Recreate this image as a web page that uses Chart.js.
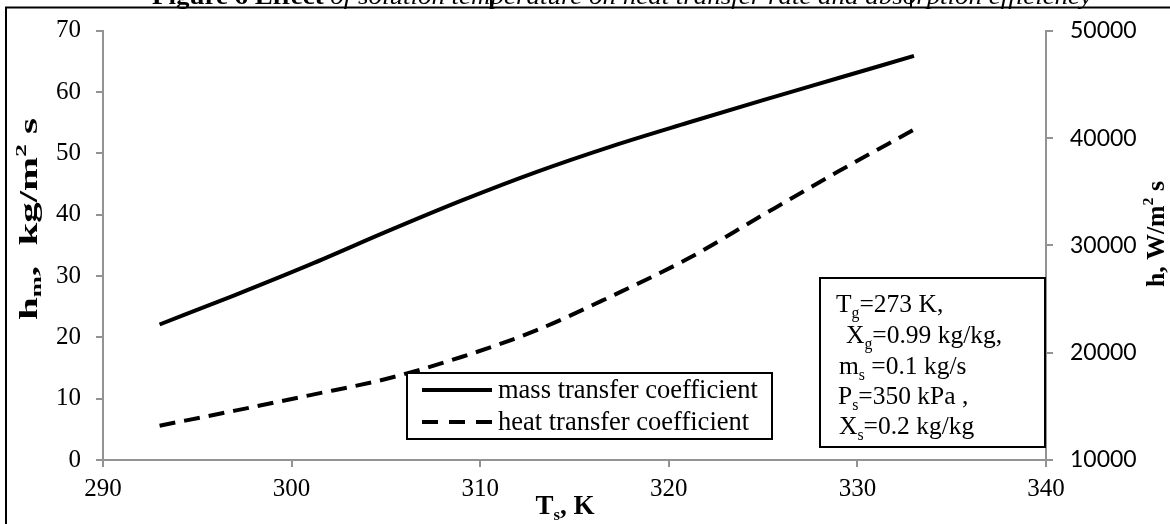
<!DOCTYPE html>
<html>
<head>
<meta charset="utf-8">
<script src="https://cdn.jsdelivr.net/npm/chart.js@4.4.1/dist/chart.umd.min.js"></script>
<style>
  html, body { margin: 0; padding: 0; background: #fff; }
  #wrap { width: 1170px; height: 524px; }
</style>
</head>
<body>
<div id="wrap"><canvas id="chart" width="1170" height="524"></canvas></div>
<script>
// solution temperature, K
const temps = [293, 297, 301, 305, 309, 313, 317, 321, 325, 329, 333];
// mass transfer coefficient, kg/m2 s (left axis)
const massCoeff = [22.1, 26.9, 31.9, 37.2, 42.3, 47.0, 51.2, 55.0, 58.7, 62.3, 65.9];
// heat transfer coefficient, W/m2 s (right axis)
const heatCoeff = [13200, 14600, 16050, 17550, 19600, 22100, 25300, 28750, 32850, 36900, 40800];

const xTicks = [290, 300, 310, 320, 330, 340];
const leftTicks = [0, 10, 20, 30, 40, 50, 60, 70];
const rightTicks = [10000, 20000, 30000, 40000, 50000];
const seriesNames = ["mass transfer coefficient", "heat transfer coefficient"];

const SERIF = '"Liberation Serif", "Times New Roman", serif';
const SANS = 'Lato, "Open Sans", sans-serif';
const AXIS = "#939393";

// rich text: [text, kind] where kind is "", "sub" or "sup"
function richWidth(ctx, parts, size, bold) {
  let w = 0;
  parts.forEach(([str, kind]) => {
    const s = kind ? size * 0.62 : size;
    ctx.font = (bold ? "bold " : "") + s + "px " + SERIF;
    w += ctx.measureText(str).width;
  });
  return w;
}

function richText(ctx, parts, x, y, size, bold) {
  let cx = x;
  parts.forEach(([str, kind]) => {
    const s = kind ? size * 0.62 : size;
    ctx.font = (bold ? "bold " : "") + s + "px " + SERIF;
    const dy = kind === "sub" ? size * 0.22 : kind === "sup" ? -size * 0.38 : 0;
    ctx.fillText(str, cx, y + dy);
    cx += ctx.measureText(str).width;
  });
}

// vertical axis title, stretched to the length it has in the figure
function rotatedTitle(ctx, parts, cx, cy, size, len) {
  const w = richWidth(ctx, parts, size, true);
  ctx.save();
  ctx.translate(cx, cy);
  ctx.rotate(-Math.PI / 2);
  ctx.scale(len / w, 1);
  ctx.textBaseline = "middle";
  richText(ctx, parts, -w / 2, 0, size, true);
  ctx.restore();
}

const decor = {
  id: "decor",
  afterDraw(chart) {
    const ctx = chart.ctx;
    ctx.save();
    ctx.fillStyle = "#000";
    ctx.strokeStyle = "#000";
    ctx.textBaseline = "alphabetic";

    // figure caption, cut off by the top of the image
    const capA = "Figure 6 Effect ";
    const capB = "of solution temperature on heat transfer rate and absorption efficiency";
    ctx.font = "bold 24px " + SERIF;
    const wa = ctx.measureText(capA).width;
    ctx.font = "italic 24px " + SERIF;
    const wb = ctx.measureText(capB).width;
    ctx.save();
    ctx.translate(152, 4);
    ctx.scale(940 / (wa + wb), 1);
    ctx.font = "bold 24px " + SERIF;
    ctx.fillText(capA, 0, 0);
    ctx.font = "italic 24px " + SERIF;
    ctx.fillText(capB, wa, 0);
    ctx.restore();

    // outer frame
    ctx.lineWidth = 2;
    ctx.beginPath();
    ctx.moveTo(6, 524);
    ctx.lineTo(6, 7.5);
    ctx.lineTo(1170, 7.5);
    ctx.moveTo(491, 0);
    ctx.lineTo(491, 7.5);
    ctx.moveTo(911, 0);
    ctx.lineTo(911, 7.5);
    ctx.stroke();

    // axis titles
    rotatedTitle(ctx, [["h", ""], ["m", "sub"], [",  kg/m", ""], ["2", "sup"], [" s", ""]], 31, 219, 25, 202);
    rotatedTitle(ctx, [["h, W/m", ""], ["2", "sup"], [" s", ""]], 1158, 234, 25, 106);
    const xt = [["T", ""], ["s", "sub"], [", K", ""]];
    richText(ctx, xt, 565 - richWidth(ctx, xt, 27, true) / 2, 514, 27, true);

    // legend box
    ctx.fillStyle = "#fff";
    ctx.fillRect(407, 373, 365, 66);
    ctx.lineWidth = 2;
    ctx.strokeRect(407, 373, 365, 66);
    ctx.fillStyle = "#000";
    ctx.lineWidth = 4;
    ctx.beginPath();
    ctx.moveTo(422, 390);
    ctx.lineTo(492, 390);
    ctx.stroke();
    ctx.setLineDash([16, 11]);
    ctx.beginPath();
    ctx.moveTo(422, 422);
    ctx.lineTo(492, 422);
    ctx.stroke();
    ctx.setLineDash([]);
    ctx.font = "26.5px " + SERIF;
    ctx.fillText(seriesNames[0], 498, 398);
    ctx.fillText(seriesNames[1], 498, 430);

    // conditions box
    ctx.lineWidth = 2;
    ctx.fillStyle = "#fff";
    ctx.fillRect(820, 278, 225, 169);
    ctx.strokeRect(820, 278, 225, 169);
    ctx.fillStyle = "#000";
    const notes = [
      [836, 312, [["T", ""], ["g", "sub"], ["=273 K,", ""]]],
      [846, 343, [["X", ""], ["g", "sub"], ["=0.99 kg/kg,", ""]]],
      [839, 374, [["m", ""], ["s", "sub"], [" =0.1 kg/s", ""]]],
      [838, 404, [["P", ""], ["s", "sub"], ["=350 kPa ,", ""]]],
      [839, 434, [["X", ""], ["s", "sub"], ["=0.2 kg/kg", ""]]],
    ];
    notes.forEach(([x, y, parts]) => richText(ctx, parts, x, y, 25.5, false));
    ctx.restore();
  },
};

const ctx = document.getElementById("chart").getContext("2d");

new Chart(ctx, {
  type: "line",
  data: {
    datasets: [
      {
        label: seriesNames[0],
        data: temps.map((t, i) => ({ x: t, y: massCoeff[i] })),
        yAxisID: "y",
        borderColor: "#000",
        borderWidth: 4,
        pointRadius: 0,
        cubicInterpolationMode: "monotone",
      },
      {
        label: seriesNames[1],
        data: temps.map((t, i) => ({ x: t, y: heatCoeff[i] })),
        yAxisID: "y1",
        borderColor: "#000",
        borderWidth: 4,
        borderDash: [16, 9],
        pointRadius: 0,
        cubicInterpolationMode: "monotone",
      },
    ],
  },
  options: {
    responsive: false,
    animation: false,
    layout: { padding: { top: 24, left: 0, right: 0, bottom: 0 } },
    plugins: { legend: { display: false }, tooltip: { enabled: false } },
    scales: {
      x: {
        type: "linear",
        min: xTicks[0],
        max: xTicks[xTicks.length - 1],
        ticks: {
          stepSize: xTicks[1] - xTicks[0],
          color: "#000",
          padding: 7,
          font: { family: SERIF, size: 25 },
        },
        grid: { drawOnChartArea: false, tickLength: 7, color: AXIS, lineWidth: 2 },
        border: { color: AXIS, width: 2 },
        afterFit: (s) => { s.height = 64; },
      },
      y: {
        position: "left",
        min: leftTicks[0],
        max: leftTicks[leftTicks.length - 1],
        ticks: {
          stepSize: leftTicks[1] - leftTicks[0],
          color: "#000",
          padding: 15,
          font: { family: SERIF, size: 25 },
        },
        grid: { drawOnChartArea: false, tickLength: 7, color: AXIS, lineWidth: 2 },
        border: { color: AXIS, width: 2 },
        afterFit: (s) => { s.width = 103; },
      },
      y1: {
        position: "right",
        min: rightTicks[0],
        max: rightTicks[rightTicks.length - 1],
        ticks: {
          stepSize: rightTicks[1] - rightTicks[0],
          color: "#000",
          padding: 17,
          font: { family: SANS, size: 23 },
          callback: (v) => String(v),
        },
        grid: { drawOnChartArea: false, tickLength: 7, color: AXIS, lineWidth: 2 },
        border: { color: AXIS, width: 2 },
        afterFit: (s) => { s.width = 124; },
      },
    },
  },
  plugins: [decor],
});
</script>
</body>
</html>
